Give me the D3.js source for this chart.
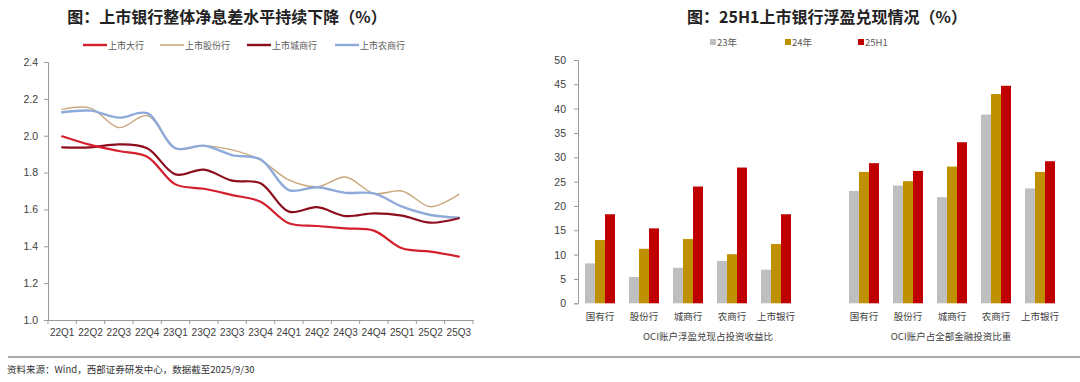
<!DOCTYPE html>
<html><head><meta charset="utf-8">
<script src="https://cdn.jsdelivr.net/npm/d3@7"></script>
<style>
body{margin:0;background:#fff;}
svg{display:block;}
text{font-family:"Liberation Sans",Arial,"Noto Sans CJK SC",sans-serif;}
.cjk{font-family:"Noto Sans CJK SC",sans-serif;}
</style></head>
<body>
<svg id="c" width="1080" height="382"></svg>
<script>
// ---------- data: left line chart ----------
const quarters = ["22Q1","22Q2","22Q3","22Q4","23Q1","23Q2","23Q3","23Q4","24Q1","24Q2","24Q3","24Q4","25Q1","25Q2","25Q3"];
const seriesNames = ["上市大行","上市股份行","上市城商行","上市农商行"];
const bigBanks   = [1.997,1.950,1.917,1.886,1.736,1.712,1.678,1.642,1.525,1.510,1.497,1.485,1.389,1.371,1.344];
const jointStock = [2.143,2.150,2.044,2.109,1.930,1.945,1.923,1.868,1.760,1.723,1.776,1.687,1.700,1.615,1.682];
const cityBanks  = [1.937,1.937,1.953,1.932,1.790,1.816,1.756,1.742,1.588,1.612,1.564,1.579,1.566,1.528,1.552];
const ruralBanks = [2.127,2.136,2.098,2.122,1.932,1.946,1.895,1.872,1.705,1.720,1.690,1.687,1.615,1.570,1.555];
const yTicksLeft = [1.0,1.2,1.4,1.6,1.8,2.0,2.2,2.4];

// ---------- data: right bar chart ----------
const bankTypes = ["国有行","股份行","城商行","农商行","上市银行"];
const barSeries = ["23年","24年","25H1"];
const groupTitles = ["OCI账户浮盈兑现占投资收益比","OCI账户占全部金融投资比重"];
const realizeY23 = [8.2,5.4,7.3,8.7,6.9];
const realizeY24 = [13.0,11.2,13.2,10.1,12.2];
const realizeH1  = [18.3,15.4,24.0,27.9,18.3];
const shareY23 = [23.1,24.2,21.8,38.8,23.6];
const shareY24 = [27.0,25.1,28.1,43.0,27.0];
const shareH1  = [28.8,27.2,33.1,44.7,29.2];
const yTicksRight = [0,5,10,15,20,25,30,35,40,45,50];

const svg = d3.select("#c");
const axisColor = "#9a9a9a", textColor = "#404040";

// ================= LEFT CHART =================
svg.append("text").attr("class","cjk").attr("x",227).attr("y",23).attr("text-anchor","middle")
  .attr("font-size",16).attr("font-weight","bold").attr("fill","#222").text("图：上市银行整体净息差水平持续下降（%）");

const xL = d3.scaleBand().domain(quarters).range([48,473]);
const yL = d3.scaleLinear().domain([1.0,2.4]).range([320,62]);

const lineColors = ["#d4202c","#c9a77c","#8c0d1c","#8eaadb"];
const lineWidths = [2.2,1.4,2.2,2.4];
const lineData = [bigBanks,jointStock,cityBanks,ruralBanks];

// y axis
const gyL = svg.append("g").attr("transform","translate(48,0)")
  .call(d3.axisLeft(yL).tickValues(yTicksLeft).tickFormat(d3.format(".1f")).tickSize(4).tickPadding(6));
// x axis
const gxL = svg.append("g").attr("transform","translate(0,320)")
  .call(d3.axisBottom(xL).tickSize(0).tickPadding(9));
// boundary ticks
gxL.selectAll("line.bt").data(quarters.concat(["end"])).enter().append("line").attr("class","bt")
  .attr("x1",(d,i)=>48+i*xL.bandwidth()).attr("x2",(d,i)=>48+i*xL.bandwidth()).attr("y1",0).attr("y2",4);
[gyL,gxL].forEach(g=>{
  g.selectAll("path").attr("stroke",axisColor);
  g.selectAll("line").attr("stroke",axisColor);
  g.selectAll("text").attr("fill",textColor).attr("font-size",10.5);
});
gxL.selectAll("text").attr("font-size",10);

const lineGen = d3.line().x((d,i)=>xL(quarters[i])+xL.bandwidth()/2).y(d=>yL(d)).curve(d3.curveCatmullRom.alpha(0.5));
// draw order: tan, blue, dark red, red
[1,3,2,0].forEach(k=>{
  svg.append("path").datum(lineData[k]).attr("d",lineGen).attr("fill","none")
    .attr("stroke",lineColors[k]).attr("stroke-width",lineWidths[k]).attr("stroke-linecap","round");
});

// legend
const legX = [83,160,247,335];
seriesNames.forEach((n,i)=>{
  svg.append("line").attr("x1",legX[i]).attr("x2",legX[i]+24).attr("y1",45).attr("y2",45)
    .attr("stroke",lineColors[i]).attr("stroke-width",i===1?1.6:2.4);
  svg.append("text").attr("class","cjk").attr("x",legX[i]+25).attr("y",48.5).attr("font-size",9)
    .attr("fill","#595959").text(n);
});

// ================= RIGHT CHART =================
svg.append("text").attr("class","cjk").attr("x",827).attr("y",23).attr("text-anchor","middle")
  .attr("font-size",16).attr("font-weight","bold").attr("fill","#222").text("图：25H1上市银行浮盈兑现情况（%）");

const keysA = bankTypes.map(d=>"A"+d), keysB = bankTypes.map(d=>"B"+d);
const xR = d3.scaleBand().domain(keysA.concat(["gap"],keysB)).range([578,1062]);
const xSub = d3.scaleBand().domain(barSeries).range([0,30]);
const yR = d3.scaleLinear().domain([0,50]).range([303.3,60]);
const barColors = ["#bfbfbf","#bf9000","#c00000"];

const gyR = svg.append("g").attr("transform","translate(578,0)")
  .call(d3.axisLeft(yR).tickValues(yTicksRight).tickSize(4).tickPadding(8));
gyR.selectAll("path").attr("stroke",axisColor);
gyR.selectAll("line").attr("stroke",axisColor);
gyR.selectAll("text").attr("fill",textColor).attr("font-size",10.5);

const groupsA = [realizeY23,realizeY24,realizeH1];
const groupsB = [shareY23,shareY24,shareH1];
function drawGroup(keys, groups){
  keys.forEach((k,ci)=>{
    const gx = xR(k) + (xR.bandwidth()-30)/2;
    barSeries.forEach((s,si)=>{
      const v = groups[si][ci];
      svg.append("rect").attr("x",gx+xSub(s)).attr("width",xSub.bandwidth())
        .attr("y",yR(v)).attr("height",yR(0)-yR(v)).attr("fill",barColors[si]);
    });
    svg.append("text").attr("class","cjk").attr("x",xR(k)+xR.bandwidth()/2).attr("y",320)
      .attr("text-anchor","middle").attr("font-size",9.5).attr("fill",textColor).text(bankTypes[ci]);
  });
}
drawGroup(keysA,groupsA);
drawGroup(keysB,groupsB);

svg.append("text").attr("class","cjk").attr("x",708).attr("y",340).attr("text-anchor","middle")
  .attr("font-size",9.5).attr("fill",textColor).text(groupTitles[0]);
svg.append("text").attr("class","cjk").attr("x",951).attr("y",340).attr("text-anchor","middle")
  .attr("font-size",9.5).attr("fill",textColor).text(groupTitles[1]);

// bar legend
const blx = [710,785,858];
barSeries.forEach((s,i)=>{
  svg.append("rect").attr("x",blx[i]).attr("y",39).attr("width",6).attr("height",6).attr("fill",barColors[i]);
  svg.append("text").attr("class","cjk").attr("x",blx[i]+7).attr("y",45.5).attr("font-size",9.5)
    .attr("fill","#595959").text(s);
});

// ================= FOOTER =================
svg.append("line").attr("x1",8).attr("x2",1080).attr("y1",357).attr("y2",357).attr("stroke","#555").attr("stroke-width",1);
svg.append("text").attr("class","cjk").attr("x",7).attr("y",373).attr("font-size",9.5).attr("fill","#333")
  .text("资料来源：Wind，西部证券研发中心，数据截至2025/9/30");
</script>
</body></html>
